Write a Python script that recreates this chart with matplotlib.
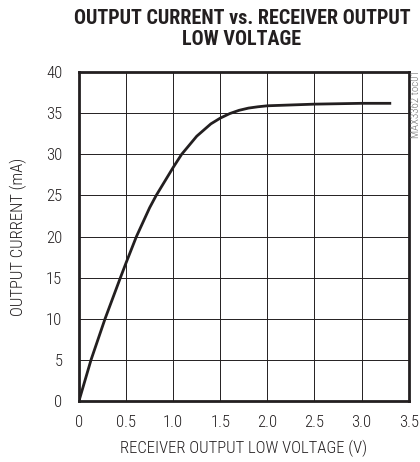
import matplotlib.pyplot as plt
from matplotlib import font_manager

# Data
volts = [0.0, 0.128, 0.277, 0.44, 0.5, 0.61, 0.75, 0.82, 1.0, 1.09, 1.25, 1.4, 1.5,
         1.6, 1.7, 1.8, 1.9, 2.0, 2.25, 2.5, 3.0, 3.3]
current = [0.0, 5.0, 10.0, 15.0, 16.8, 20.0, 23.5, 25.0, 28.4, 30.0, 32.2, 33.7, 34.4,
           34.95, 35.35, 35.62, 35.78, 35.9, 36.0, 36.1, 36.2, 36.2]

xticks = [0, 0.5, 1.0, 1.5, 2.0, 2.5, 3.0, 3.5]
xlabels = ['0', '0.5', '1.0', '1.5', '2.0', '2.5', '3.0', '3.5']
yticks = [0, 5, 10, 15, 20, 25, 30, 35, 40]

# Choix d'une police étroite si disponible
dispo = set(f.name for f in font_manager.fontManager.ttflist)
def choisir(liste):
    for nom in liste:
        if nom in dispo:
            return nom
    return 'DejaVu Sans'

police = choisir(['Roboto Condensed', 'Archivo Narrow', 'PT Sans Narrow', 'Liberation Sans Narrow',
                  'Pragati Narrow', 'Barlow Semi Condensed', 'Barlow Condensed'])
plt.rcParams['font.family'] = [police, 'DejaVu Sans']

fig = plt.figure(figsize=(4.2, 4.62), dpi=100)
ax = fig.add_axes([0.188, 0.132, 0.785, 0.712])

ax.plot(volts, current, color='#231f20', lw=2.0, solid_joinstyle='round')

ax.set_xlim(0, 3.5)
ax.set_ylim(0, 40)
ax.set_xticks(xticks)
ax.set_xticklabels(xlabels)
ax.set_yticks(yticks)
ax.grid(True, color='#231f20', lw=0.7)
ax.tick_params(length=0, labelsize=12, colors='#231f20')
ax.tick_params(axis='x', pad=10)
ax.tick_params(axis='y', pad=12)
for lab in ax.get_xticklabels() + ax.get_yticklabels():
    lab.set_fontweight('light')
for s in ax.spines.values():
    s.set_linewidth(2.0)
    s.set_color('#231f20')

ax.set_xlabel('RECEIVER OUTPUT LOW VOLTAGE (V)', fontsize=12, color='#231f20',
              labelpad=7, fontweight='light')
ax.set_ylabel('OUTPUT CURRENT (mA)', fontsize=12, color='#231f20',
              labelpad=14, fontweight='light')

fig.text(0.576, 0.980, 'OUTPUT CURRENT vs. RECEIVER OUTPUT\nLOW VOLTAGE', ha='center', va='top',
         fontsize=14.5, fontweight='black', color='#231f20', linespacing=1.15)
fig.text(0.990, 0.701, 'MAX3362 toc01', rotation=90, ha='center', va='bottom',
         fontsize=7.8, color='#707070', fontweight='light')

fig.savefig('out.png', dpi=100)
